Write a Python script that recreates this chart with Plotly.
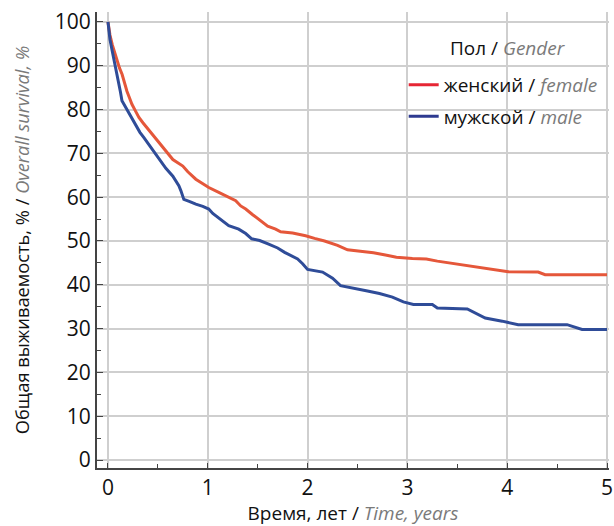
import plotly.graph_objects as go

# ---- data ----
female_t = [0, 0.02, 0.043, 0.065, 0.092, 0.115, 0.142, 0.165, 0.19, 0.215, 0.24, 0.275, 0.31, 0.35, 0.39,
            0.46, 0.52, 0.54, 0.6, 0.65, 0.75, 0.8, 0.88, 0.95, 1.01, 1.11, 1.19, 1.28, 1.33, 1.38, 1.45,
            1.51, 1.6, 1.68, 1.73, 1.85, 1.98, 2.07, 2.17, 2.3, 2.4, 2.55, 2.66, 2.78, 2.89, 3.05, 3.19,
            3.3, 3.42, 3.55, 3.68, 3.85, 4.01, 4.31, 4.38, 5.0]
female_s = [100, 97, 94.8, 93, 91, 89.5, 88, 86, 84.2, 82.7, 81.2, 79.7, 78.2, 77, 75.9,
            74, 72.4, 71.8, 70, 68.6, 67.1, 65.8, 64.1, 63, 62.2, 61.1, 60.2, 59.2, 58, 57.3, 56,
            55, 53.4, 52.7, 52.1, 51.8, 51.2, 50.6, 50, 49, 48, 47.6, 47.3, 46.8, 46.3, 46, 45.9,
            45.4, 45, 44.6, 44, 43.5, 43, 42.9, 42.3, 42.3]

male_t = [0, 0.02, 0.043, 0.06, 0.076, 0.095, 0.11, 0.125, 0.14, 0.165, 0.19, 0.215, 0.24, 0.29, 0.32,
          0.36, 0.42, 0.47, 0.52, 0.58, 0.65, 0.71, 0.73, 0.76, 0.82, 0.88, 0.95, 1.01, 1.05, 1.10,
          1.15, 1.21, 1.31, 1.38, 1.44, 1.52, 1.61, 1.7, 1.77, 1.85, 1.9, 1.95, 1.98, 2.0, 2.15,
          2.25, 2.33, 2.5, 2.6, 2.72, 2.85, 2.96, 3.06, 3.25, 3.3, 3.6, 3.7, 3.78, 3.95, 4.11,
          4.6, 4.75, 5.0]
male_s = [100, 96, 93.3, 91.5, 89.5, 87.6, 85.8, 84, 82, 81, 80, 79.1, 78.2, 75.9, 74.8,
          73.6, 71.7, 70.1, 68.3, 66.6, 64.8, 62.6, 61.5, 59.5, 59, 58.4, 57.9, 57.3, 56.3, 55.4,
          54.6, 53.5, 52.7, 51.7, 50.5, 50.1, 49.3, 48.4, 47.4, 46.5, 45.9, 44.8, 44.1, 43.5, 42.9,
          41.5, 39.8, 39.1, 38.6, 38, 37.2, 36.1, 35.5, 35.5, 34.7, 34.5, 33.4, 32.4, 31.7, 30.9,
          30.9, 29.8, 29.8]

x_ticks = [0, 1, 2, 3, 4, 5]
y_ticks = [0, 10, 20, 30, 40, 50, 60, 70, 80, 90, 100]

GRAY = "#7a7a7a"
FONT = "Open Sans"


def gray_it(s):
    return "<span style='color:" + GRAY + "'><i>" + s + "</i></span>"


label_female = "женский / " + gray_it("female")
label_male = "мужской / " + gray_it("male")
legend_title = "Пол / " + gray_it("Gender")
x_title = "Время, лет / " + gray_it("Time, years")
y_title = "Общая выживаемость, % / " + gray_it("Overall survival, %")

fig = go.Figure()
fig.add_trace(go.Scatter(x=female_t, y=female_s, mode="lines", line=dict(color="#e5573a", width=3),
                         showlegend=False, hoverinfo="skip"))
fig.add_trace(go.Scatter(x=male_t, y=male_s, mode="lines", line=dict(color="#2f4c98", width=3),
                         showlegend=False, hoverinfo="skip"))
# legend entries
fig.add_trace(go.Scatter(x=[None], y=[None], mode="lines", line=dict(color="#e62634", width=3),
                         name=label_female, legendgroup="f"))
fig.add_trace(go.Scatter(x=[None], y=[None], mode="lines", line=dict(color="#2d3a90", width=3),
                         name=label_male, legendgroup="m"))

fig.add_annotation(text=legend_title, xref="paper", yref="paper", x=0.802, y=0.921,
                   xanchor="center", yanchor="middle", showarrow=False, font=dict(size=19))

fig.update_layout(
    width=614, height=526,
    margin=dict(l=97, r=1, t=12, b=56),
    paper_bgcolor="white", plot_bgcolor="white",
    font=dict(family=FONT, size=19, color="#111111"),
    legend=dict(x=0.599, y=0.882, xanchor="left", yanchor="top",
                font=dict(size=19), bgcolor="rgba(0,0,0,0)", itemwidth=30, tracegroupgap=4),
    xaxis=dict(range=[-0.11, 5.02], tickvals=x_ticks, showgrid=True, gridcolor="#cfcfcf", gridwidth=1.5,
               zeroline=False, showline=True, linecolor="#444444", linewidth=2,
               ticks="inside", ticklen=5, tickcolor="#444444", ticklabeloverflow="allow",
               minor=dict(dtick=0.5, ticks="inside", ticklen=4, tickcolor="#444444", showgrid=False),
               tickfont=dict(size=21), title=dict(text=x_title, font=dict(size=19), standoff=10)),
    yaxis=dict(range=[-1.82, 102.27], tickvals=y_ticks, showgrid=True, gridcolor="#cfcfcf", gridwidth=1.5,
               zeroline=False, showline=True, linecolor="#444444", linewidth=2,
               ticks="inside", ticklen=6, tickcolor="#444444",
               minor=dict(dtick=5, ticks="inside", ticklen=4, tickcolor="#444444", showgrid=False),
               tickfont=dict(size=21), title=dict(text=y_title, font=dict(size=18.3), standoff=20)),
)

fig.write_html("out.html")
